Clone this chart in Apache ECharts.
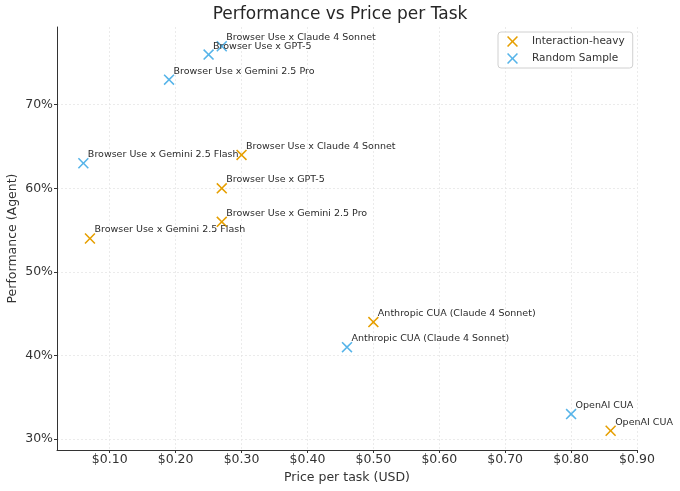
<!DOCTYPE html>
<html>
<head>
<meta charset="utf-8">
<script src="https://cdn.jsdelivr.net/npm/echarts@6/dist/echarts.min.js"></script>
<style>
  html, body { margin: 0; padding: 0; background: #fff; }
  #chart-container { width: 680px; height: 491px; }
</style>
</head>
<body>
<div id="chart-container"></div>
<script>
var names = [
  "Browser Use x Claude 4 Sonnet",
  "Browser Use x GPT-5",
  "Browser Use x Gemini 2.5 Pro",
  "Browser Use x Gemini 2.5 Flash",
  "Anthropic CUA (Claude 4 Sonnet)",
  "OpenAI CUA",
];
var heavyPrice = [0.3, 0.27, 0.27, 0.07, 0.5, 0.86];
var heavyPerf = [64, 60, 56, 54, 44, 31];
var randomPrice = [0.27, 0.25, 0.19, 0.06, 0.46, 0.8];
var randomPerf = [77, 76, 73, 63, 41, 33];
var xTicks = [0.1, 0.2, 0.3, 0.4, 0.5, 0.6, 0.7, 0.8, 0.9];
var yTicks = [30, 40, 50, 60, 70];

var FONT = "DejaVu Sans";
// X-shaped marker
var CROSS = "path://M0,1 L1,0 L5,4 L9,0 L10,1 L6,5 L10,9 L9,10 L5,6 L1,10 L0,9 L4,5 Z";

function points(xs, ys) {
  return xs.map(function (x, i) {
    return { value: [x, ys[i]], name: names[i] };
  });
}

var dom = document.getElementById("chart-container");
var myChart = echarts.init(dom, null, { renderer: "canvas" });

var labelStyle = {
  show: true,
  position: [10, -8],
  formatter: "{b}",
  fontFamily: FONT,
  fontSize: 9.5,
  color: "#2b2b2b",
};

var option = {
  animation: false,
  title: {
    text: "Performance vs Price per Task",
    left: "center",
    top: 6,
    padding: 0,
    textStyle: { fontFamily: FONT, fontSize: 17, fontWeight: "normal", color: "#262626" },
  },
  legend: {
    orient: "vertical",
    left: 498,
    top: 32,
    padding: [4, 8, 4, 9],
    itemWidth: 11,
    itemHeight: 11,
    itemGap: 6,
    borderColor: "#d0d0d0",
    borderWidth: 1,
    borderRadius: 3,
    backgroundColor: "rgba(255,255,255,0.8)",
    textStyle: { fontFamily: FONT, fontSize: 10.5, color: "#333", padding: [0, 0, 0, 9] },
  },
  grid: {
    left: 57,
    right: 43,
    top: 27,
    bottom: 41,
    containLabel: false,
    outerBoundsMode: "none",
  },
  xAxis: {
    type: "value",
    min: 0.02,
    max: 0.9,
    name: "Price per task (USD)",
    nameLocation: "middle",
    nameGap: 21,
    nameMoveOverlap: false,
    nameTextStyle: { fontFamily: FONT, fontSize: 12.5, color: "#333" },
    axisLine: { lineStyle: { color: "#333", width: 1 } },
    axisTick: { customValues: xTicks, length: 3, lineStyle: { color: "#333" } },
    axisLabel: {
      customValues: xTicks,
      margin: 3,
      fontFamily: FONT,
      fontSize: 12.5,
      color: "#333",
      formatter: function (v) { return "$" + v.toFixed(2); },
    },
    splitLine: { show: true, lineStyle: { color: "#e6e6e6", type: [2, 2], width: 0.8 } },
  },
  yAxis: {
    type: "value",
    min: 28.7,
    max: 79.3,
    name: "Performance (Agent)",
    nameLocation: "middle",
    nameGap: 38,
    nameMoveOverlap: false,
    nameTextStyle: { fontFamily: FONT, fontSize: 12.5, color: "#333" },
    axisLine: { show: true, lineStyle: { color: "#333", width: 1 } },
    axisTick: { show: true, customValues: yTicks, length: 3, lineStyle: { color: "#333" } },
    axisLabel: {
      customValues: yTicks,
      margin: 4,
      fontFamily: FONT,
      fontSize: 12.5,
      color: "#333",
      formatter: "{value}%",
    },
    splitLine: { show: true, lineStyle: { color: "#e6e6e6", type: [2, 2], width: 0.8 } },
  },
  series: [
    {
      name: "Interaction-heavy",
      type: "scatter",
      symbol: CROSS,
      symbolSize: 11,
      itemStyle: { color: "#E69F00", opacity: 1 },
      label: labelStyle,
      data: points(heavyPrice, heavyPerf),
    },
    {
      name: "Random Sample",
      type: "scatter",
      symbol: CROSS,
      symbolSize: 11,
      itemStyle: { color: "#56B4E9", opacity: 1 },
      label: labelStyle,
      data: points(randomPrice, randomPerf),
    },
  ],
};

myChart.setOption(option);
window.addEventListener("resize", myChart.resize);
</script>
</body>
</html>
